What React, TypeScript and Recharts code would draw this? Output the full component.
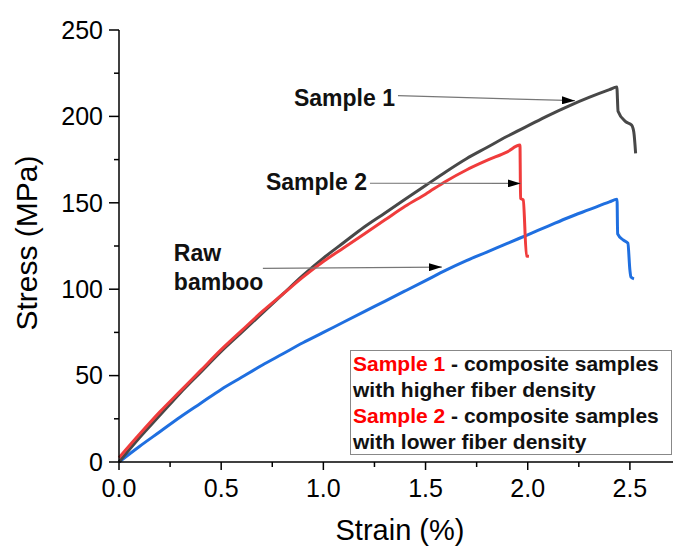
import React from 'react';
import { LineChart, Line, XAxis, YAxis, ReferenceLine } from 'recharts';

// strain (%) / stress (MPa)
const sample1Strain = [0, 0.1, 0.2, 0.3, 0.4, 0.5, 0.6, 0.7, 0.8, 0.9, 1.0, 1.1, 1.2, 1.3, 1.4, 1.5, 1.6, 1.7, 1.8, 1.9, 2.0, 2.1, 2.2, 2.3, 2.4, 2.436, 2.442, 2.479, 2.508, 2.519, 2.528];
const sample1Stress = [0, 14, 27, 40, 52, 64, 75, 86, 97, 108, 118, 127, 136, 144, 152, 160, 168, 175.5, 182, 188.5, 194.5, 200.5, 206, 211, 215.5, 217, 203, 197, 195, 191, 178.6];

const sample2Strain = [0, 0.1, 0.2, 0.3, 0.4, 0.5, 0.6, 0.7, 0.8, 0.9, 1.0, 1.1, 1.2, 1.3, 1.4, 1.5, 1.6, 1.7, 1.8, 1.9, 1.962, 1.965, 1.978, 1.994, 2.006];
const sample2Stress = [2.5, 16, 29, 41, 53, 65, 76, 87, 97, 107, 116, 124, 132, 140, 148, 155, 162.5, 169, 174.5, 179.5, 183.4, 152.6, 151.6, 119.2, 119];

const rawStrain = [0, 0.1, 0.2, 0.3, 0.4, 0.5, 0.6, 0.7, 0.8, 0.9, 1.0, 1.1, 1.2, 1.3, 1.4, 1.5, 1.6, 1.7, 1.8, 1.9, 2.0, 2.1, 2.2, 2.3, 2.4, 2.437, 2.44, 2.467, 2.49, 2.5, 2.505, 2.52];
const rawStress = [0, 9, 17.5, 26, 34, 42, 49, 56, 62.5, 69, 75, 81, 87, 93, 99, 105, 111, 116.5, 121.5, 126.5, 131.5, 136.5, 141.5, 146, 150.5, 152, 132, 128.5, 126.6, 111, 107, 106];

const xTicks = [0, 0.25, 0.5, 0.75, 1.0, 1.25, 1.5, 1.75, 2.0, 2.25, 2.5, 2.75];
const xMajor = [0, 0.5, 1.0, 1.5, 2.0, 2.5];
const yTicks = [0, 25, 50, 75, 100, 125, 150, 175, 200, 225, 250];
const yMajor = [0, 50, 100, 150, 200, 250];

const toPoints = (xs: number[], ys: number[]) => xs.map((x, i) => ({ x, y: ys[i] }));
const sample1 = toPoints(sample1Strain, sample1Stress);
const sample2 = toPoints(sample2Strain, sample2Stress);
const raw = toPoints(rawStrain, rawStress);

// arrows: start and tip in data units
const arrowSample1 = [{ x: 1.365, y: 212 }, { x: 2.231, y: 209.1 }];
const arrowSample2 = [{ x: 1.228, y: 161.3 }, { x: 1.965, y: 161.2 }];
const arrowRaw = [{ x: 0.704, y: 112 }, { x: 1.58, y: 112.8 }];

const FONT = '"Liberation Sans", Arial, sans-serif';

const XTick = (props: any) => {
  const { x, y, payload } = props;
  const major = xMajor.includes(payload.value);
  return (
    <g>
      <line x1={x} y1={y} x2={x} y2={y + (major ? 8 : 5)} stroke="#000" strokeWidth={1.5} />
      {major && (
        <text x={x} y={y + 35} textAnchor="middle" fontSize={25} fontFamily={FONT} fill="#000">
          {payload.value.toFixed(1)}
        </text>
      )}
    </g>
  );
};

const YTick = (props: any) => {
  const { x, y, payload } = props;
  const major = yMajor.includes(payload.value);
  return (
    <g>
      <line x1={x - (major ? 10 : 5)} y1={y} x2={x} y2={y} stroke="#000" strokeWidth={1.5} />
      {major && (
        <text x={x - 16} y={y} dy="0.35em" textAnchor="end" fontSize={25} fontFamily={FONT} fill="#000">
          {payload.value}
        </text>
      )}
    </g>
  );
};

const arrowShape = (lines: string[], dx: number, dys: number[], anchor: 'start' | 'end') => (p: any) => (
  <g>
    <line x1={p.x1} y1={p.y1} x2={p.x2} y2={p.y2} stroke="#777" strokeWidth={1.2} markerEnd="url(#arrowHead)" />
    {lines.map((t, i) => (
      <text key={i} x={p.x1 + dx} y={p.y1 + dys[i]} textAnchor={anchor} fontSize={23} fontWeight="bold" fontFamily={FONT} fill="#111">
        {t}
      </text>
    ))}
  </g>
);

const App: React.FC = () => (
  <div style={{ position: 'fixed', left: 0, top: 0, width: 673, height: 548, overflow: 'hidden', background: '#fff' }}>
    <svg width={0} height={0} style={{ position: 'absolute' }}>
      <defs>
        <marker id="arrowHead" markerWidth={13} markerHeight={8} refX={13} refY={4} orient="auto" markerUnits="userSpaceOnUse">
          <path d="M0,0 L13,4 L0,8 z" fill="#000" />
        </marker>
      </defs>
    </svg>
    <LineChart width={700} height={548} margin={{ top: 30, right: 19, bottom: 0, left: 0 }}>
      <XAxis
        xAxisId="top"
        orientation="top"
        type="number"
        dataKey="x"
        domain={[0, 2.75]}
        height={0}
        tick={false}
        tickLine={false}
        axisLine={{ stroke: '#000', strokeWidth: 1.5 }}
      />
      <XAxis
        type="number"
        dataKey="x"
        domain={[0, 2.75]}
        ticks={xTicks}
        interval={0}
        height={86}
        tickSize={0}
        tickMargin={0}
        tickLine={false}
        tick={<XTick />}
        axisLine={{ stroke: '#000', strokeWidth: 1.5 }}
        label={{
          content: ({ viewBox }: any) => (
            <text x={viewBox.x + viewBox.width / 2} y={540} textAnchor="middle" fontSize={29} fontFamily={FONT} fill="#000">
              Strain (%)
            </text>
          ),
        }}
      />
      <YAxis
        type="number"
        domain={[0, 250]}
        ticks={yTicks}
        interval={0}
        width={119}
        tickSize={0}
        tickMargin={0}
        tickLine={false}
        tick={<YTick />}
        axisLine={{ stroke: '#000', strokeWidth: 1.5 }}
        label={{
          content: () => (
            <text x={37} y={243} transform="rotate(-90 37 243)" textAnchor="middle" fontSize={30} fontFamily={FONT} fill="#000">
              Stress (MPa)
            </text>
          ),
        }}
      />
      <Line data={raw} dataKey="y" type="monotone" stroke="#1f6fe0" strokeWidth={3} dot={false} isAnimationActive={false} />
      <Line data={sample1} dataKey="y" type="monotone" stroke="#484848" strokeWidth={3} dot={false} isAnimationActive={false} />
      <Line data={sample2} dataKey="y" type="monotone" stroke="#f03c3c" strokeWidth={3} dot={false} isAnimationActive={false} />
      <ReferenceLine segment={arrowSample1} shape={arrowShape(['Sample 1'], -3, [10.5], 'end')} />
      <ReferenceLine segment={arrowSample2} shape={arrowShape(['Sample 2'], -3, [7], 'end')} />
      <ReferenceLine segment={arrowRaw} shape={arrowShape(['Raw', 'bamboo'], -89, [-7.5, 21.5], 'start')} />
    </LineChart>
    <div
      style={{
        position: 'absolute',
        left: 350,
        top: 349.5,
        width: 318,
        height: 103,
        border: '1.5px solid #888',
        paddingLeft: 2,
        fontFamily: FONT,
        fontWeight: 'bold',
        fontSize: 21,
        lineHeight: '26px',
        color: '#111',
        whiteSpace: 'nowrap',
      }}
    >
      <div><span style={{ color: '#ff0000' }}>Sample 1</span> - composite samples</div>
      <div>with higher fiber density</div>
      <div><span style={{ color: '#ff0000' }}>Sample 2</span> - composite samples</div>
      <div>with lower fiber density</div>
    </div>
  </div>
);

export default App;
